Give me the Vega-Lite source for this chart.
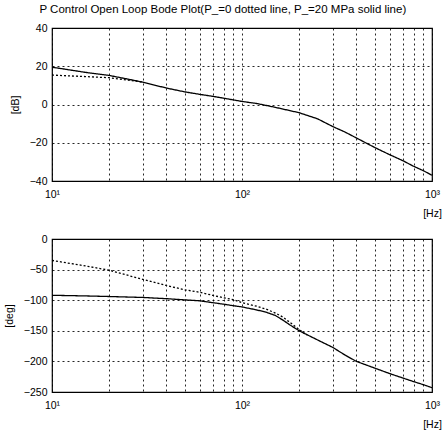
{
  "$schema": "https://vega.github.io/schema/vega-lite/v6.json",
  "background": "white",
  "padding": {"left": 3, "top": 3, "right": 4, "bottom": 4},
  "title": {"text": "P Control  Open Loop Bode Plot(P_=0 dotted line, P_=20 MPa solid line)", "fontSize": 11.5, "font": "Liberation Sans", "fontWeight": "normal", "color": "black", "anchor": "middle", "offset": 7},
  "datasets": {
    "mag": [
      {"f": 10, "v": 19.5, "c": "solid"}, {"f": 12, "v": 18.3, "c": "solid"}, {"f": 15, "v": 16.8, "c": "solid"},
      {"f": 20, "v": 15.2, "c": "solid"}, {"f": 25, "v": 13.3, "c": "solid"}, {"f": 30, "v": 11.7, "c": "solid"},
      {"f": 40, "v": 8.6, "c": "solid"}, {"f": 50, "v": 6.6, "c": "solid"}, {"f": 60, "v": 5.3, "c": "solid"},
      {"f": 70, "v": 4.3, "c": "solid"}, {"f": 80, "v": 3.3, "c": "solid"}, {"f": 90, "v": 2.4, "c": "solid"},
      {"f": 100, "v": 1.6, "c": "solid"}, {"f": 120, "v": 0.5, "c": "solid"}, {"f": 150, "v": -1.5, "c": "solid"},
      {"f": 200, "v": -4.3, "c": "solid"}, {"f": 250, "v": -7.5, "c": "solid"}, {"f": 300, "v": -11.5, "c": "solid"},
      {"f": 350, "v": -14.5, "c": "solid"}, {"f": 400, "v": -17.5, "c": "solid"}, {"f": 500, "v": -22.5, "c": "solid"},
      {"f": 600, "v": -26.3, "c": "solid"}, {"f": 700, "v": -29.3, "c": "solid"}, {"f": 800, "v": -32.3, "c": "solid"},
      {"f": 900, "v": -34.6, "c": "solid"}, {"f": 1000, "v": -37, "c": "solid"},
      {"f": 10, "v": 15.4, "c": "dotted"}, {"f": 12, "v": 15.0, "c": "dotted"}, {"f": 15, "v": 14.6, "c": "dotted"},
      {"f": 20, "v": 14.0, "c": "dotted"}, {"f": 25, "v": 12.8, "c": "dotted"}, {"f": 30, "v": 11.7, "c": "dotted"}
    ],
    "phase": [
      {"f": 10, "v": -92, "c": "solid"}, {"f": 15, "v": -93, "c": "solid"}, {"f": 20, "v": -94, "c": "solid"},
      {"f": 30, "v": -95.5, "c": "solid"}, {"f": 40, "v": -97.5, "c": "solid"}, {"f": 50, "v": -99.5, "c": "solid"},
      {"f": 60, "v": -101, "c": "solid"}, {"f": 70, "v": -104, "c": "solid"}, {"f": 80, "v": -106.5, "c": "solid"},
      {"f": 90, "v": -109, "c": "solid"}, {"f": 100, "v": -111, "c": "solid"}, {"f": 120, "v": -116, "c": "solid"},
      {"f": 135, "v": -120, "c": "solid"}, {"f": 150, "v": -125, "c": "solid"}, {"f": 165, "v": -133, "c": "solid"},
      {"f": 180, "v": -141, "c": "solid"}, {"f": 200, "v": -150, "c": "solid"}, {"f": 250, "v": -165, "c": "solid"},
      {"f": 300, "v": -177, "c": "solid"}, {"f": 350, "v": -190, "c": "solid"}, {"f": 400, "v": -200, "c": "solid"},
      {"f": 500, "v": -211, "c": "solid"}, {"f": 600, "v": -220, "c": "solid"}, {"f": 700, "v": -227, "c": "solid"},
      {"f": 800, "v": -233, "c": "solid"}, {"f": 900, "v": -238, "c": "solid"}, {"f": 1000, "v": -243, "c": "solid"},
      {"f": 10, "v": -35, "c": "dotted"}, {"f": 15, "v": -44, "c": "dotted"}, {"f": 20, "v": -51, "c": "dotted"},
      {"f": 30, "v": -66, "c": "dotted"}, {"f": 40, "v": -76, "c": "dotted"}, {"f": 50, "v": -83, "c": "dotted"},
      {"f": 60, "v": -87, "c": "dotted"}, {"f": 70, "v": -92, "c": "dotted"}, {"f": 80, "v": -96, "c": "dotted"},
      {"f": 90, "v": -99, "c": "dotted"}, {"f": 100, "v": -104, "c": "dotted"}, {"f": 120, "v": -110, "c": "dotted"},
      {"f": 135, "v": -115, "c": "dotted"}, {"f": 150, "v": -121, "c": "dotted"}, {"f": 165, "v": -128, "c": "dotted"},
      {"f": 180, "v": -137, "c": "dotted"}, {"f": 200, "v": -148, "c": "dotted"}, {"f": 220, "v": -157, "c": "dotted"}
    ]
  },
  "spacing": 13,
  "vconcat": [
    {
      "width": 380, "height": 153,
      "data": {"name": "mag"},
      "mark": {"type": "line", "color": "black", "strokeWidth": 1.3},
      "encoding": {
        "x": {"field": "f", "type": "quantitative", "scale": {"type": "log", "domain": [10, 1000]},
          "axis": {"title": "[Hz]", "values": [10,20,30,40,50,60,70,80,90,100,200,300,400,500,600,700,800,900,1000],
            "labelExpr": "datum.value==10?'10¹':datum.value==100?'10²':datum.value==1000?'10³':''"}},
        "y": {"field": "v", "type": "quantitative", "scale": {"domain": [-40, 40]},
          "axis": {"title": "[dB]", "values": [-40,-20,0,20,40], "format": "d"}},
        "strokeDash": {"field": "c", "type": "nominal", "scale": {"domain": ["solid", "dotted"], "range": [[1, 0], [2, 2]]}, "legend": null},
        "strokeWidth": {"field": "c", "type": "nominal", "scale": {"domain": ["solid", "dotted"], "range": [1.4, 1]}, "legend": null}
      }
    },
    {
      "width": 380, "height": 153,
      "data": {"name": "phase"},
      "mark": {"type": "line", "color": "black", "strokeWidth": 1.3},
      "encoding": {
        "x": {"field": "f", "type": "quantitative", "scale": {"type": "log", "domain": [10, 1000]},
          "axis": {"title": "[Hz]", "values": [10,20,30,40,50,60,70,80,90,100,200,300,400,500,600,700,800,900,1000],
            "labelExpr": "datum.value==10?'10¹':datum.value==100?'10²':datum.value==1000?'10³':''"}},
        "y": {"field": "v", "type": "quantitative", "scale": {"domain": [-250, 0]},
          "axis": {"title": "[deg]", "values": [-250,-200,-150,-100,-50,0], "format": "d"}},
        "strokeDash": {"field": "c", "type": "nominal", "scale": {"domain": ["solid", "dotted"], "range": [[1, 0], [2, 2]]}, "legend": null},
        "strokeWidth": {"field": "c", "type": "nominal", "scale": {"domain": ["solid", "dotted"], "range": [1.4, 1]}, "legend": null}
      }
    }
  ],
  "config": {
    "font": "Liberation Sans",
    "view": {"stroke": "black", "strokeWidth": 1.2},
    "axis": {
      "domain": false, "ticks": false, "grid": true, "gridColor": "black", "gridDash": [2, 3], "gridWidth": 1, "gridOpacity": 0.85,
      "labelFont": "Liberation Sans", "labelFontSize": 10.5, "labelColor": "black",
      "titleFont": "Liberation Sans", "titleFontSize": 10.5, "titleFontWeight": "normal", "titleColor": "black"
    },
    "axisX": {"labelPadding": 8, "titleAnchor": "end", "titleAlign": "center", "titlePadding": 9, "labelFlush": false},
    "axisY": {"labelPadding": 5, "titlePadding": 9}
  }
}
